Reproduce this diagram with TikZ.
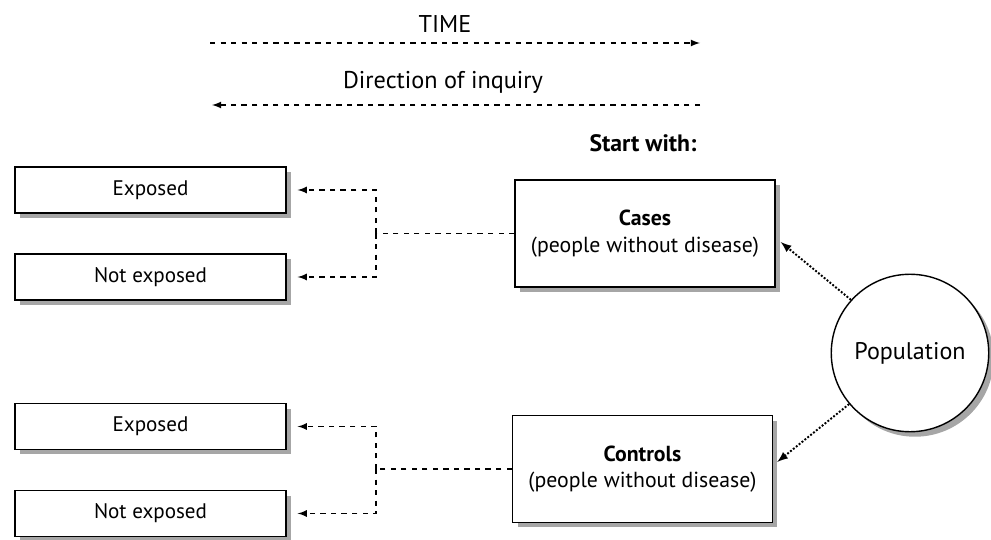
\documentclass[tikz,border=0pt]{standalone}
\usepackage{fontspec}
\setmainfont{PT Sans}
\usetikzlibrary{shapes.geometric, arrows, shadows}
\usetikzlibrary{positioning}
\tikzstyle{boxshadow} = [drop shadow={shadow xshift=0.1cm, shadow yshift=-0.1cm, fill=black!35, opacity=1}]
\tikzstyle{factor} = [rectangle, minimum width=5.42cm, minimum height=0.92cm, text centered, draw=black, thick, fill=white, boxshadow, font=\fontsize{12}{14}\selectfont]
\tikzstyle{group} = [rectangle, minimum width=5.2cm, minimum height=2.14cm, align=center, draw=black, thick, fill=white, boxshadow, font=\fontsize{12.4}{15}\selectfont]
\tikzstyle{source} = [circle, minimum size=3.15cm, draw=black, thick, fill=white, boxshadow, font=\fontsize{13.7}{16}\selectfont]
\tikzstyle{label} = [font=\fontsize{13.8}{16}\selectfont]
\tikzstyle{arrow} = [thick,->,>=latex]
\tikzstyle{link} = [thick,dashed,->,>=latex]
\tikzstyle{pick} = [line width=1.1pt,densely dotted,->,>=latex]

\begin{document}
\begin{tikzpicture}[x=0.02cm, y=-0.02cm]
	\useasboundingbox (0,0) rectangle (991,540);

	\node (time) [label] at (445,24) {TIME};
	\coordinate (time_from) at (210,43);
	\coordinate (time_to) at (700,43);
	\node (inquiry) [label] at (443,82) {Direction of inquiry};
	\coordinate (inquiry_from) at (700,105);
	\coordinate (inquiry_to) at (212,105);

	\node (start_with) [font=\fontsize{13.5}{15}\selectfont\bfseries] at (643,143) {Start with:};
	\node (cases) [group] at (645,233.5) {\textbf{Cases}\\(people without disease)};
	\node (controls) [group] at (642.5,469) {\textbf{Controls}\\(people without disease)};
	\node (population) [source] at (910,353) {Population};

	\node (exp_cases) [factor] at (150.5,190) {Exposed};
	\node (unexp_cases) [factor] at (150.5,277) {Not exposed};
	\node (exp_controls) [factor] at (150.5,426.5) {Exposed};
	\node (unexp_controls) [factor] at (150.5,513.5) {Not exposed};

	\coordinate (fork_cases) at (376,233.5);
	\coordinate (fork_controls) at (376,469);

	\draw [arrow, dashed] (time_from) -- (time_to);
	\draw [arrow, dashed] (inquiry_from) -- (inquiry_to);

	\draw [thick, dashed] (cases.west) -- (fork_cases);
	\draw [link] (fork_cases) |- ([xshift=0.22cm]exp_cases.east);
	\draw [link] (fork_cases) |- ([xshift=0.22cm]unexp_cases.east);

	\draw [thick, dashed] (controls.west) -- (fork_controls);
	\draw [link] (fork_controls) |- ([xshift=0.22cm]exp_controls.east);
	\draw [link] (fork_controls) |- ([xshift=0.22cm]unexp_controls.east);

	\draw [pick] (population.138) -- ([xshift=0.1cm, yshift=-0.17cm]cases.east);
	\draw [pick] (population.220) -- ([xshift=0.08cm, yshift=0.14cm]controls.east);

\end{tikzpicture}
\end{document}
